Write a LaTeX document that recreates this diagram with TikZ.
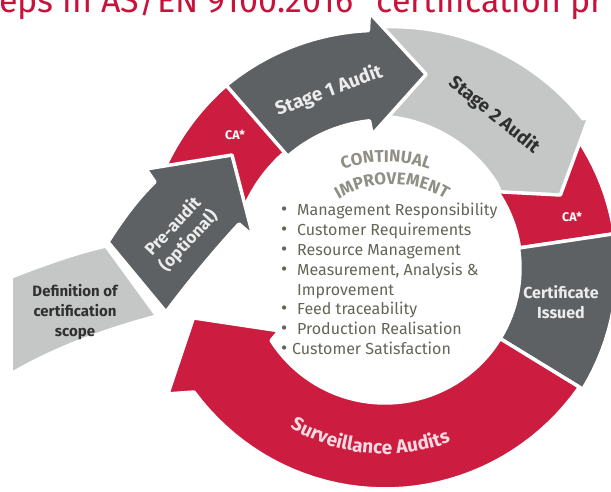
\documentclass[tikz,border=0pt]{standalone}
\usepackage{fontspec}
\setmainfont{Fira Sans}
\usetikzlibrary{decorations.text}
\definecolor{cred}{RGB}{204,28,64}
\definecolor{cdark}{RGB}{94,97,99}
\definecolor{clight}{RGB}{197,199,198}
\definecolor{ctitle}{RGB}{200,18,58}
\definecolor{clist}{RGB}{100,100,88}
\definecolor{cci}{RGB}{143,143,134}
\definecolor{cpink}{RGB}{250,218,225}
\definecolor{cdtext}{RGB}{48,48,48}
\definecolor{cwtext}{RGB}{236,236,236}
\newcommand{\bul}[1]{\makebox[#1][l]{\fontsize{19}{18}\selectfont\textbullet}}
\begin{document}
\begin{tikzpicture}[x=1pt,y=-1pt,
  piece/.style={draw=white, line width=3.5pt, line join=round},
  lbl/.style={font=\fontsize{15}{20}\selectfont\bfseries, align=center, inner sep=0pt},
  li/.style={anchor=base west, inner sep=0pt, text=clist, font=\fontsize{16}{18}\selectfont}]
\useasboundingbox (0,0) rectangle (611,491);
\clip (0,0) rectangle (611,491);
\def\cx{385}\def\cy{268}
% polar helper coordinates
\coordinate (s1ob) at ([shift={(\cx,\cy)}]-93.5:256);
\coordinate (s1tip) at ([shift={(\cx,\cy)}]-78:198);
\coordinate (s1ib) at ([shift={(\cx,\cy)}]-95.5:134);
\coordinate (s2ob) at ([shift={(\cx,\cy)}]-36.5:254);
\coordinate (s2tip) at ([shift={(\cx,\cy)}]-22.6:190);
\coordinate (s2ib) at ([shift={(\cx,\cy)}]-33.5:138);
\coordinate (svib) at ([shift={(\cx,\cy)}]149.3:123);
\coordinate (svtip) at ([shift={(\cx,\cy)}]165.4:198);
\coordinate (svob) at ([shift={(\cx,\cy)}]149.9:251);

% title (clipped at top)
\node[anchor=base west, inner sep=0pt, text=ctitle, font=\fontsize{34}{34}\selectfont] (title) at (-1,12.5) {eps in AS/EN 9100:2016* certification pr};

% Definition of certification scope
\path[fill=clight, piece] (11,277) .. controls (45,264) and (75,253) .. (106,246) -- (157,316) .. controls (105,330) and (55,348) .. (11,374) -- cycle;

% CA* (left)
\path[fill=cred, piece] plot[domain=-160:-129, samples=16, variable=\t] ({\cx+242*cos(\t)},{\cy+242*sin(\t)})
  -- plot[domain=-129:-160, samples=16, variable=\t] ({\cx+153*cos(\t)},{\cy+153*sin(\t)}) -- cycle;

% Pre-audit arrow
\path[fill=cdark, piece] (108,242) .. controls (122,220) and (138,198) .. (155,182) -- (146,169) -- (232,155) -- (253,236) -- (239,224) .. controls (215,250) and (190,280) .. (166,312) -- cycle;

% CA* (right)
\path[fill=cred, piece] plot[domain=-36:-8.5, samples=12, variable=\t] ({\cx+232*cos(\t)},{\cy+232*sin(\t)})
  -- plot[domain=-8.5:-36, samples=12, variable=\t] ({\cx+136*cos(\t)},{\cy+136*sin(\t)}) -- cycle;

% Certificate issued
\path[fill=cdark, piece] plot[domain=-8.5:31.5, samples=16, variable=\t] ({\cx+232*cos(\t)},{\cy+232*sin(\t)})
  -- plot[domain=31.5:-8.5, samples=16, variable=\t] ({\cx+135*cos(\t)},{\cy+135*sin(\t)}) -- cycle;

% Surveillance audits arrow
\path[fill=cred, piece] plot[domain=31.5:147.5, samples=40, variable=\t] ({\cx+135*cos(\t)},{\cy+135*sin(\t)})
  -- (svib) -- (svtip) -- (svob)
  -- plot[domain=147:31.5, samples=40, variable=\t] ({\cx+(221+7*((\t-90)/58)^2)*cos(\t)},{\cy+(221+7*((\t-90)/58)^2)*sin(\t)}) -- cycle;

% Stage 2 audit arrow
\path[fill=clight, piece] plot[domain=-92:-37, samples=30, variable=\t] ({\cx+(241+7*(\t+92)/55)*cos(\t)},{\cy+(241+7*(\t+92)/55)*sin(\t)})
  -- (s2ob) -- (s2tip) -- (s2ib)
  -- plot[domain=-37:-92, samples=30, variable=\t] ({\cx+(152-12*(\t+92)/55)*cos(\t)},{\cy+(152-12*(\t+92)/55)*sin(\t)}) -- cycle;

% Stage 1 audit arrow
\path[fill=cdark, piece] plot[domain=-131:-94, samples=25, variable=\t] ({\cx+(242-4*(\t+131)/37)*cos(\t)},{\cy+(242-4*(\t+131)/37)*sin(\t)})
  -- (s1ob) -- (s1tip) -- (s1ib)
  -- plot[domain=-96:-131, samples=25, variable=\t] ({\cx+148*cos(\t)},{\cy+148*sin(\t)}) -- cycle;

% labels
\node[lbl, text=cdtext] (def) at (75,312) {Definition of\\certification\\scope};
\node[lbl, text=cwtext, rotate=47, font=\fontsize{17}{21}\selectfont\bfseries] (pre) at (181,234) {Pre-audit\\(optional)};
\node[lbl, text=white, font=\fontsize{12.5}{14}\selectfont\bfseries] (ca1) at (235,135) {CA*};
\node[lbl, text=cwtext, rotate=20.5, font=\fontsize{19}{20}\selectfont\bfseries] (s1) at (329,91) {Stage 1 Audit};
\node[lbl, text=cdtext, rotate=-39, font=\fontsize{18.5}{20}\selectfont\bfseries] (s2) at (494,115) {Stage 2 Audit};
\node[lbl, text=white, font=\fontsize{12.5}{14}\selectfont\bfseries] (ca2) at (572,217) {CA*};
\node[lbl, text=cwtext, font=\fontsize{16}{20}\selectfont\bfseries] (cert) at (561,302) {Certificate\\Issued};

\path[decorate, decoration={text along path, text align=center,
  text={|\fontsize{19}{19}\selectfont\bfseries\color{cpink}|Surveillance Audits}}]
  plot[domain=140:50, samples=50, variable=\t] ({\cx+186*cos(\t)},{\cy+186*sin(\t)});

\path[decorate, decoration={text along path, text align=center,
  text={|\fontsize{17}{17}\selectfont\bfseries\addfontfeatures{LetterSpace=7}\color{cci}|CONTINUAL}}]
  plot[domain=-140:-40, samples=50, variable=\t] ({386+128*cos(\t)},{290+128*sin(\t)});
\path[decorate, decoration={text along path, text align=center,
  text={|\fontsize{17}{17}\selectfont\bfseries\addfontfeatures{LetterSpace=8}\color{cci}|IMPROVEMENT}}]
  plot[domain=-150:-30, samples=50, variable=\t] ({392+102*cos(\t)},{286+102*sin(\t)});

% list
\node[li] (l1) at (281,215) {\bul{16pt}Management Responsibility};
\node[li] (l2) at (281,235) {\bul{16pt}Customer Requirements};
\node[li] (l3) at (281,255) {\bul{16pt}Resource Management};
\node[li] (l4) at (281,275) {\bul{16pt}Measurement, Analysis \&};
\node[li] (l5) at (297,295) {Improvement};
\node[li] (l6) at (281,314) {\bul{16pt}Feed traceability};
\node[li] (l7) at (281,334) {\bul{16pt}Production Realisation};
\node[li] (l8) at (281,354) {\bul{11pt}Customer Satisfaction};
\end{tikzpicture}
\end{document}
